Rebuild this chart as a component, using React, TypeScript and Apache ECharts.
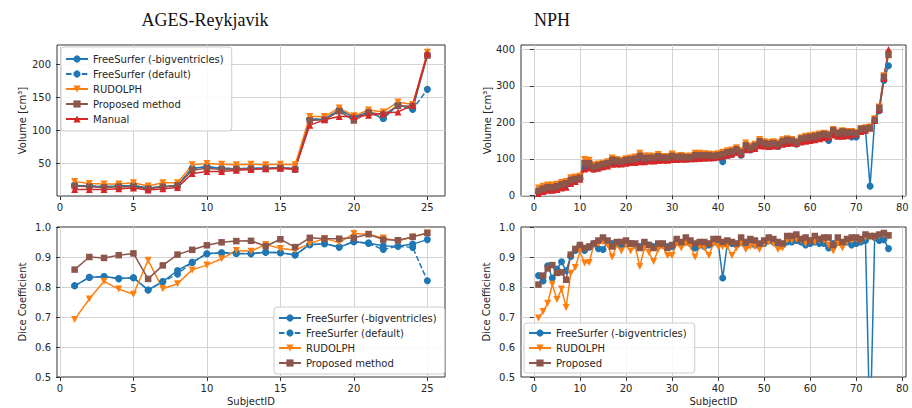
import React, { useEffect, useRef } from "react";
import * as echarts from "echarts";

// ---------------- AGES-Reykjavik ----------------
const agesIds = [1, 2, 3, 4, 5, 6, 7, 8, 9, 10, 11, 12, 13, 14, 15, 16, 17, 18, 19, 20, 21, 22, 23, 24, 25];
const agesFsBigVol = [17, 16, 15, 16, 17, 13, 15, 17, 43, 45, 43, 42, 43, 43, 44, 42, 117, 117, 131, 120, 128, 118, 139, 132, 214];
const agesFsDefVol = [17, 16, 15, 16, 17, 13, 15, 17, 43, 45, 43, 42, 43, 43, 44, 42, 117, 117, 131, 120, 128, 118, 139, 132, 162];
const agesRudVol = [23, 20, 19, 19, 21, 16, 21, 21, 48, 50, 49, 48, 49, 48, 49, 48, 121, 121, 134, 122, 131, 128, 143, 139, 218];
const agesPropVol = [16, 15, 14, 15, 15, 12, 15, 17, 40, 43, 41, 42, 42, 42, 43, 41, 115, 116, 129, 115, 127, 124, 137, 137, 213];
const agesManVol = [11, 11, 11, 12, 13, 10, 12, 14, 35, 38, 38, 40, 41, 42, 43, 42, 108, 116, 121, 121, 123, 126, 128, 138, 216];

const agesFsBigDice = [0.804, 0.832, 0.835, 0.828, 0.831, 0.79, 0.818, 0.855, 0.882, 0.911, 0.914, 0.912, 0.911, 0.916, 0.914, 0.907, 0.941, 0.944, 0.933, 0.951, 0.947, 0.937, 0.936, 0.943, 0.958];
const agesFsDefDice = [0.804, 0.832, 0.835, 0.828, 0.831, 0.79, 0.818, 0.843, 0.882, 0.911, 0.914, 0.912, 0.911, 0.916, 0.914, 0.907, 0.941, 0.944, 0.933, 0.951, 0.945, 0.925, 0.936, 0.932, 0.821];
const agesRudDice = [0.692, 0.76, 0.819, 0.793, 0.776, 0.889, 0.794, 0.811, 0.857, 0.873, 0.894, 0.922, 0.919, 0.942, 0.928, 0.923, 0.944, 0.962, 0.948, 0.978, 0.976, 0.963, 0.953, 0.967, 0.98];
const agesPropDice = [0.858, 0.9, 0.897, 0.906, 0.912, 0.827, 0.872, 0.908, 0.924, 0.939, 0.949, 0.953, 0.954, 0.936, 0.959, 0.933, 0.964, 0.961, 0.961, 0.964, 0.976, 0.958, 0.956, 0.967, 0.98];

// ---------------- NPH ----------------
const nphIds = [
  1, 2, 3, 4, 5, 6, 7, 8, 9, 10, 11, 12, 13, 14, 15, 16, 17, 18, 19, 20,
  21, 22, 23, 24, 25, 26, 27, 28, 29, 30, 31, 32, 33, 34, 35, 36, 37, 38, 39, 40,
  41, 42, 43, 44, 45, 46, 47, 48, 49, 50, 51, 52, 53, 54, 55, 56, 57, 58, 59, 60,
  61, 62, 63, 64, 65, 66, 67, 68, 69, 70, 71, 72, 73, 74, 75, 76, 77,
];
const nphFsVol = [
  8, 14, 18, 18, 20, 25, 28, 38, 42, 46, 75, 78, 72, 74, 78, 82, 88, 88, 88, 92,
  94, 95, 98, 96, 97, 98, 100, 98, 98, 102, 100, 101, 100, 100, 104, 104, 102, 104, 103, 104,
  92, 110, 112, 118, 110, 128, 124, 130, 140, 136, 134, 136, 134, 142, 144, 144, 140, 148, 150, 152,
  155, 158, 160, 150, 170, 165, 168, 168, 160, 160, 175, 178, 25, 205, 232, 315, 355,
];
const nphRudVol = [
  20, 25, 28, 28, 30, 35, 38, 48, 50, 52, 98, 96, 84, 86, 88, 92, 102, 98, 96, 100,
  102, 105, 115, 108, 108, 107, 112, 106, 106, 113, 108, 109, 107, 108, 115, 115, 114, 113, 112, 114,
  118, 122, 124, 130, 122, 143, 135, 140, 153, 147, 145, 147, 144, 152, 155, 153, 148, 158, 162, 163,
  165, 168, 170, 168, 180, 173, 177, 175, 175, 172, 183, 185, 187, 210, 242, 328, 388,
];
const nphPropVol = [
  12, 18, 22, 22, 25, 30, 33, 42, 45, 48, 88, 88, 78, 82, 85, 88, 97, 95, 92, 97,
  98, 100, 108, 102, 103, 103, 107, 103, 103, 108, 105, 106, 104, 104, 110, 110, 110, 110, 108, 110,
  113, 118, 120, 126, 118, 137, 130, 136, 148, 143, 140, 143, 140, 148, 152, 150, 145, 155, 158, 160,
  162, 165, 168, 165, 178, 170, 175, 173, 172, 170, 182, 183, 185, 207, 240, 325, 385,
];
const nphManVol = [
  5, 10, 14, 14, 16, 20, 22, 32, 38, 44, 72, 75, 72, 75, 78, 80, 85, 86, 86, 88,
  90, 90, 92, 92, 94, 94, 95, 96, 96, 98, 98, 99, 99, 100, 100, 101, 102, 102, 103, 105,
  108, 110, 113, 118, 113, 125, 126, 128, 136, 135, 134, 135, 136, 140, 142, 143, 142, 146, 148, 150,
  152, 155, 158, 160, 165, 162, 162, 163, 165, 168, 175, 178, 184, 205, 235, 320, 400,
];

const nphFsDice = [
  0.838, 0.82, 0.871, 0.83, 0.86, 0.884, 0.854, 0.902, 0.922, 0.939, 0.922, 0.933, 0.944, 0.928, 0.925, 0.95, 0.945, 0.945, 0.94, 0.945,
  0.945, 0.94, 0.935, 0.945, 0.94, 0.935, 0.94, 0.94, 0.935, 0.935, 0.95, 0.945, 0.955, 0.945, 0.93, 0.94, 0.935, 0.94, 0.95, 0.95,
  0.83, 0.945, 0.945, 0.94, 0.95, 0.945, 0.95, 0.94, 0.94, 0.945, 0.955, 0.95, 0.945, 0.94, 0.95, 0.95, 0.955, 0.95, 0.94, 0.945,
  0.95, 0.945, 0.945, 0.93, 0.945, 0.95, 0.945, 0.95, 0.94, 0.945, 0.95, 0.955, 0.3, 0.965, 0.955, 0.958, 0.928,
];
const nphRudDice = [
  0.697, 0.718, 0.746, 0.809, 0.758, 0.793, 0.732, 0.846, 0.865, 0.918, 0.88, 0.882, 0.94, 0.945, 0.95, 0.94, 0.9, 0.94, 0.92, 0.94,
  0.92, 0.935, 0.868, 0.93, 0.915, 0.885, 0.925, 0.935, 0.905, 0.905, 0.945, 0.93, 0.945, 0.935, 0.9, 0.935, 0.93, 0.905, 0.945, 0.935,
  0.935, 0.935, 0.905, 0.93, 0.945, 0.925, 0.935, 0.935, 0.925, 0.945, 0.95, 0.945, 0.925, 0.93, 0.955, 0.955, 0.96, 0.955, 0.945, 0.955,
  0.95, 0.955, 0.955, 0.94, 0.92, 0.945, 0.93, 0.95, 0.955, 0.96, 0.955, 0.965, 0.965, 0.965, 0.97, 0.975, 0.97,
];
const nphPropDice = [
  0.808, 0.838, 0.862, 0.873, 0.847, 0.849, 0.824, 0.908, 0.927, 0.94, 0.93, 0.935, 0.945, 0.955, 0.965, 0.955, 0.935, 0.95, 0.95, 0.955,
  0.945, 0.945, 0.93, 0.95, 0.94, 0.93, 0.945, 0.945, 0.93, 0.94, 0.96, 0.95, 0.965, 0.955, 0.945, 0.95, 0.95, 0.945, 0.96, 0.96,
  0.95, 0.955, 0.95, 0.945, 0.965, 0.95, 0.96, 0.955, 0.945, 0.955, 0.965, 0.96, 0.95, 0.945, 0.97, 0.97, 0.975, 0.96, 0.965, 0.955,
  0.97, 0.96, 0.965, 0.965, 0.94, 0.965, 0.95, 0.96, 0.965, 0.965, 0.96, 0.975, 0.97, 0.97, 0.975, 0.98, 0.972,
];

const NAME_FS_BIG = "FreeSurfer (-bigventricles)";
const NAME_FS_DEF = "FreeSurfer (default)";
const NAME_RUD = "RUDOLPH";
const NAME_PROP_M = "Proposed method";
const NAME_MAN = "Manual";
const NAME_PROP = "Proposed";

const C_BLUE = "#1f77b4";
const C_ORANGE = "#ff7f0e";
const C_BROWN = "#8c564b";
const C_RED = "#d62728";
const SYM_DOWN = "path://M0,0L10,0L5,9Z";

const FONT = "DejaVu Sans";
const TXT = "#262626";

export default function App() {
  const ref = useRef<HTMLDivElement>(null);
  useEffect(() => {
    if (!ref.current) return;
    const chart = echarts.init(ref.current, undefined, { renderer: "svg" });

    const grids = [
      { left: 57, top: 45, width: 388, height: 151 },
      { left: 57, top: 227, width: 388, height: 150 },
      { left: 521, top: 45, width: 385, height: 151 },
      { left: 521, top: 227, width: 385, height: 150 },
    ].map((g) => ({ ...g, show: true, borderColor: "#333", borderWidth: 1, backgroundColor: "#fff" }));

    const xAxis = (gi: number, min: number, max: number, interval: number, split: number, named: boolean) => ({
      type: "value",
      gridIndex: gi,
      min,
      max,
      splitNumber: split,
      minInterval: interval,
      maxInterval: interval,
      name: named ? "SubjectID" : "",
      nameLocation: "middle",
      nameGap: 19,
      nameTextStyle: { fontFamily: FONT, fontSize: 10, color: TXT },
      axisLine: { show: false },
      axisTick: { show: true, length: 4, lineStyle: { color: "#333" } },
      axisLabel: { showMinLabel: false, showMaxLabel: false, fontFamily: FONT, fontSize: 10, color: TXT, margin: 6 },
      splitLine: { show: true, showMinLine: false, showMaxLine: false, lineStyle: { color: "#d3d3d3", width: 1 } },
    });

    const yAxis = (gi: number, min: number, max: number, interval: number, name: string, gap: number, dice: boolean) => ({
      type: "value",
      gridIndex: gi,
      min,
      max,
      minInterval: interval,
      maxInterval: interval,
      name,
      nameLocation: "middle",
      nameGap: gap,
      nameTextStyle: { fontFamily: FONT, fontSize: 10, color: TXT },
      axisLine: { show: false },
      axisTick: { show: true, length: 4, lineStyle: { color: "#333" } },
      axisLabel: {
        showMinLabel: dice,
        showMaxLabel: dice,
        fontFamily: FONT,
        fontSize: 10,
        color: TXT,
        margin: 6,
        formatter: dice ? (v: number) => v.toFixed(1) : (v: number) => String(v),
      },
      splitLine: { show: true, showMinLine: false, showMaxLine: false, lineStyle: { color: "#d3d3d3", width: 1 } },
    });

    const mk = (
      name: string,
      ids: number[],
      vals: number[],
      color: string,
      symbol: string,
      gi: number,
      dashed = false,
      size = 7
    ) => ({
      type: "line",
      name,
      xAxisIndex: gi,
      yAxisIndex: gi,
      data: ids.map((x, i) => [x, vals[i]]),
      symbol,
      symbolSize: size,
      showAllSymbol: true,
      clip: true,
      itemStyle: { color },
      lineStyle: { color, width: 1.5, type: dashed ? [5.5, 2.4] : "solid" },
      emphasis: { disabled: true },
    });

    const legendBase = {
      orient: "vertical",
      selectedMode: false,
      itemWidth: 22,
      itemHeight: 9,
      itemGap: 3,
      backgroundColor: "rgba(255,255,255,0.85)",
      borderColor: "#cccccc",
      borderWidth: 1,
      borderRadius: 3,
      textStyle: { fontFamily: FONT, fontSize: 10, color: TXT, lineHeight: 12 },
    };

    const option = {
      animation: false,
      backgroundColor: "#fff",
      grid: grids,
      xAxis: [
        xAxis(0, -0.2, 26.2, 5, 5, false),
        xAxis(1, -0.2, 26.2, 5, 5, true),
        xAxis(2, -2.8, 80.8, 10, 8, false),
        xAxis(3, -2.8, 80.8, 10, 8, true),
      ],
      yAxis: [
        yAxis(0, 1, 229, 50, "Volume [cm³]", 30, false),
        yAxis(1, 0.5, 1.0, 0.1, "Dice Coefficient", 30, true),
        yAxis(2, -2, 412, 100, "Volume [cm³]", 29, false),
        yAxis(3, 0.5, 1.0, 0.1, "Dice Coefficient", 30, true),
      ],
      legend: [
        { ...legendBase, left: 61, top: 47, padding: [6, 8, 6, 4], data: [NAME_FS_BIG, NAME_FS_DEF, NAME_RUD, NAME_PROP_M, NAME_MAN] },
        { ...legendBase, left: 274, top: 307, padding: [5, 8, 5, 4], data: [NAME_FS_BIG, NAME_FS_DEF, NAME_RUD, NAME_PROP_M] },
        { ...legendBase, left: 524, top: 323, padding: [4, 8, 4, 4], data: [NAME_FS_BIG, NAME_RUD, NAME_PROP] },
      ],
      graphic: [
        {
          type: "text",
          x: 205,
          y: 20,
          style: { text: "AGES-Reykjavik", font: "18px 'Liberation Serif'", fill: "#111", textAlign: "center", textVerticalAlign: "middle" },
        },
        {
          type: "text",
          x: 552,
          y: 20,
          style: { text: "NPH", font: "18px 'Liberation Serif'", fill: "#111", textAlign: "center", textVerticalAlign: "middle" },
        },
      ],
      series: [
        mk(NAME_FS_BIG, agesIds, agesFsBigVol, C_BLUE, "circle", 0),
        mk(NAME_FS_DEF, agesIds, agesFsDefVol, C_BLUE, "circle", 0, true),
        mk(NAME_RUD, agesIds, agesRudVol, C_ORANGE, SYM_DOWN, 0),
        mk(NAME_PROP_M, agesIds, agesPropVol, C_BROWN, "rect", 0, false, 6.5),
        mk(NAME_MAN, agesIds, agesManVol, C_RED, "triangle", 0),

        mk(NAME_FS_BIG, agesIds, agesFsBigDice, C_BLUE, "circle", 1),
        mk(NAME_FS_DEF, agesIds, agesFsDefDice, C_BLUE, "circle", 1, true),
        mk(NAME_RUD, agesIds, agesRudDice, C_ORANGE, SYM_DOWN, 1),
        mk(NAME_PROP_M, agesIds, agesPropDice, C_BROWN, "rect", 1, false, 6.5),

        mk(NAME_FS_BIG, nphIds, nphFsVol, C_BLUE, "circle", 2),
        mk(NAME_RUD, nphIds, nphRudVol, C_ORANGE, SYM_DOWN, 2),
        mk(NAME_MAN, nphIds, nphManVol, C_RED, "triangle", 2),
        mk(NAME_PROP, nphIds, nphPropVol, C_BROWN, "rect", 2, false, 6.5),

        mk(NAME_FS_BIG, nphIds, nphFsDice, C_BLUE, "circle", 3),
        mk(NAME_RUD, nphIds, nphRudDice, C_ORANGE, SYM_DOWN, 3),
        mk(NAME_PROP, nphIds, nphPropDice, C_BROWN, "rect", 3, false, 6.5),
      ],
    };

    chart.setOption(option as any);
    return () => chart.dispose();
  }, []);

  return (
    <div
      ref={ref}
      style={{ position: "fixed", left: 0, top: 0, width: 912, height: 408, background: "#fff" }}
    />
  );
}
